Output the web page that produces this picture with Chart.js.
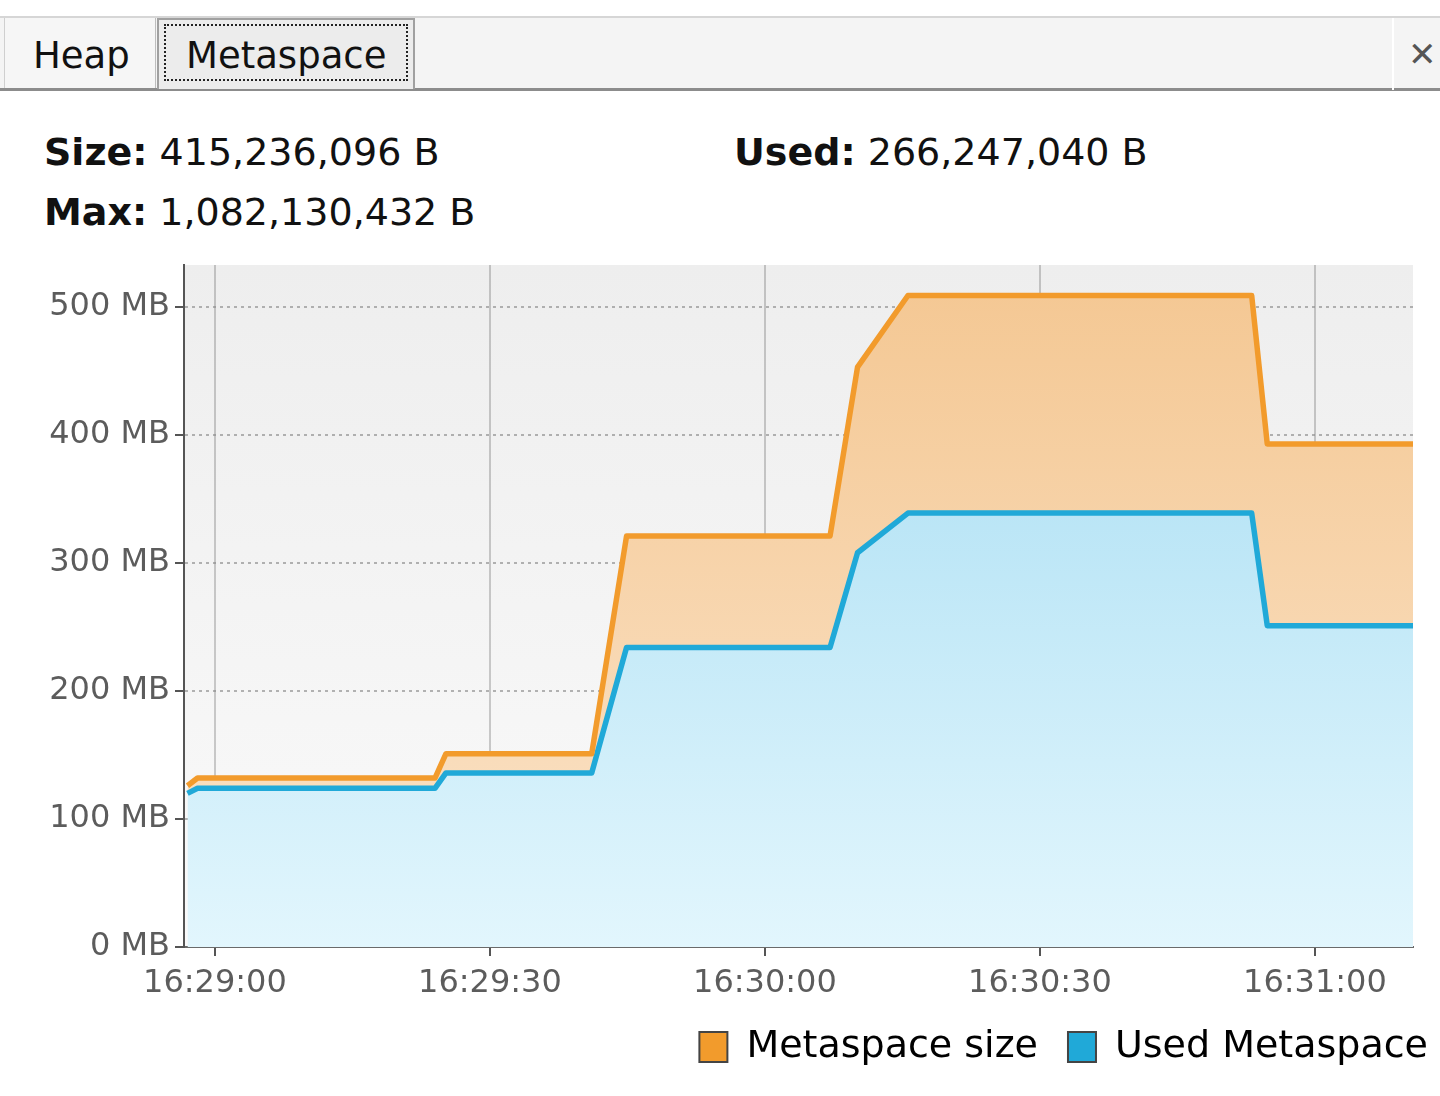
<!DOCTYPE html>
<html>
<head>
<meta charset="utf-8">
<script src="https://cdn.jsdelivr.net/npm/chart.js@4.4.1/dist/chart.umd.min.js"></script>
<style>
  html, body { margin: 0; padding: 0; background: #ffffff; width: 1440px; height: 1096px; overflow: hidden; }
  body { position: relative; font-family: "DejaVu Sans", sans-serif; color: #111; }
  .strip { position: absolute; left: 0; top: 16px; width: 1440px; height: 70px; background: #f4f4f4;
           border-top: 2px solid #d6d6d6; border-bottom: 3px solid #8c8c8c; }
  .tab { position: absolute; top: 18px; height: 70px; box-sizing: border-box; font-size: 37px; color: #111; }
  .tab.heap { left: 4px; width: 152px; background: #f6f6f6; border-left: 1px solid #cfcfcf; border-right: 1px solid #bdbdbd; }
  .tab.heap span { position: absolute; left: 28px; top: 16px; }
  .tab.meta { left: 157px; width: 258px; height: 71px; background: #ececec; border: 2px solid #a0a0a0; border-bottom: none; }
  .tab.meta .focus { position: absolute; left: 5px; top: 4px; width: 244px; height: 57px; box-sizing: border-box; border: 2px dotted #222; }
  .tab.meta span { position: absolute; left: 27px; top: 14px; }
  .close { position: absolute; left: 1408px; top: 34px; font-size: 34px; color: #555; font-weight: bold; }
  .divider { position: absolute; left: 1392px; top: 18px; width: 2px; height: 72px; background: #ffffff; }
  .info { position: absolute; font-size: 38px; color: #111; white-space: nowrap; }
  .info b { font-weight: bold; }
  #wrap { position: absolute; left: 0; top: 250px; width: 1460px; height: 846px; }
</style>
</head>
<body>
<div class="strip"></div>
<div class="divider"></div>
<div class="tab heap"><span>Heap</span></div>
<div class="tab meta"><div class="focus"></div><span>Metaspace</span></div>
<div class="close">✕</div>

<div class="info" style="left:44px; top:130px;"><b>Size:</b> 415,236,096 B</div>
<div class="info" style="left:44px; top:190px;"><b>Max:</b> 1,082,130,432 B</div>
<div class="info" style="left:734px; top:130px;"><b>Used:</b> 266,247,040 B</div>

<div id="wrap"><canvas id="c" width="1458" height="846"></canvas></div>

<script>
// ---- data (seconds after 16:29:00, values in MB) ----
const sampleSeconds = [-3.0, -1.9, 24.0, 25.2, 41.1, 44.9, 67.1, 70.1, 75.6, 113.1, 114.8, 130.7];
const metaspaceSize = [126, 132, 132, 151, 151, 321, 321, 453, 509, 509, 393, 393];
const usedMetaspace = [120, 124, 124, 136, 136, 234, 234, 308, 339, 339, 251, 251];
const xTickSeconds = [0, 30, 60, 90, 120];
const xTickLabels = ["16:29:00", "16:29:30", "16:30:00", "16:30:30", "16:31:00"];
const yTickValues = [0, 100, 200, 300, 400, 500];
const yTickLabels = ["0 MB", "100 MB", "200 MB", "300 MB", "400 MB", "500 MB"];
const seriesNames = ["Metaspace size", "Used Metaspace"];

const FONT = '"DejaVu Sans", sans-serif';
const ORANGE = '#f29b2c';
const BLUE = '#20a9d8';

function pts(vals) { return sampleSeconds.map((s, i) => ({ x: s, y: vals[i] })); }

function grad(ctx, chart, c1, c2) {
  const a = chart.chartArea;
  if (!a) return c1;
  const g = ctx.createLinearGradient(0, a.top, 0, a.bottom);
  g.addColorStop(0, c1);
  g.addColorStop(1, c2);
  return g;
}

const plotBg = {
  id: 'plotBg',
  beforeDraw(chart) {
    const { ctx, chartArea: a } = chart;
    const g = ctx.createLinearGradient(0, a.top, 0, a.bottom);
    g.addColorStop(0, '#eeeeee');
    g.addColorStop(1, '#fafafa');
    ctx.save();
    ctx.fillStyle = g;
    ctx.fillRect(a.left, a.top, a.right - a.left, a.bottom - a.top);
    ctx.restore();
  }
};

new Chart(document.getElementById('c'), {
  type: 'line',
  data: {
    datasets: [
      {
        label: seriesNames[0],
        data: pts(metaspaceSize),
        borderColor: ORANGE,
        borderWidth: 5.5,
        borderJoinStyle: 'round',
        pointRadius: 0,
        tension: 0,
        fill: '+1',
        backgroundColor: (c) => grad(c.chart.ctx, c.chart, '#f4c792', '#fbe4ca'),
        legendFill: ORANGE
      },
      {
        label: seriesNames[1],
        data: pts(usedMetaspace),
        borderColor: BLUE,
        borderWidth: 5.5,
        borderJoinStyle: 'round',
        pointRadius: 0,
        tension: 0,
        fill: 'origin',
        backgroundColor: (c) => grad(c.chart.ctx, c.chart, '#a4dcf2', '#e2f6fd'),
        legendFill: BLUE
      }
    ]
  },
  options: {
    responsive: false,
    animation: false,
    events: [],
    layout: { padding: { top: 15, right: 0, bottom: 20, left: 0 } },
    scales: {
      x: {
        type: 'linear',
        min: -3.38,
        max: 130.7,
        z: 1,
        afterBuildTicks(scale) { scale.ticks = xTickSeconds.map(v => ({ value: v })); },
        afterFit(scale) { scale.height = 51; scale.paddingLeft = 0; scale.paddingRight = 0; },
        ticks: {
          autoSkip: false,
          maxRotation: 0,
          padding: 8,
          color: '#5c5c5c',
          font: { family: FONT, size: 32 },
          callback: (v) => xTickLabels[xTickSeconds.indexOf(v)]
        },
        grid: {
          color: 'rgba(0,0,0,0.19)',
          lineWidth: 2,
          tickLength: 9,
          tickColor: '#555',
          tickWidth: 2
        },
        border: { display: true, color: '#6a6a6a', width: 2 }
      },
      y: {
        type: 'linear',
        position: 'left',
        min: 0,
        max: 532.8,
        z: 1,
        afterBuildTicks(scale) { scale.ticks = yTickValues.map(v => ({ value: v })); },
        afterFit(scale) { scale.width = 184; scale.paddingTop = 0; scale.paddingBottom = 0; },
        ticks: {
          padding: 5,
          color: '#5c5c5c',
          font: { family: FONT, size: 32 },
          callback: (v) => yTickLabels[yTickValues.indexOf(v)]
        },
        grid: {
          color: 'rgba(140,140,140,0.65)',
          lineWidth: 2,
          tickBorderDash: [],
          tickLength: 9,
          tickColor: '#555',
          tickWidth: 2,
          drawOnChartArea: true
        },
        border: { display: true, color: '#555', width: 2, dash: [3, 4] }
      },
      pad: {
        type: 'linear',
        axis: 'y',
        position: 'right',
        display: true,
        afterFit(scale) { scale.width = 45; scale.paddingTop = 0; scale.paddingBottom = 0; },
        ticks: { display: false },
        grid: { display: false, drawTicks: false },
        border: { display: false }
      }
    },
    plugins: {
      filler: { drawTime: 'beforeDatasetsDraw' },
      legend: {
        display: true,
        position: 'bottom',
        align: 'end',
        labels: {
          boxWidth: 28,
          boxHeight: 30,
          padding: 30,
          color: '#000',
          font: { family: FONT, size: 38 },
          generateLabels(chart) {
            return chart.data.datasets.map((ds, i) => ({
              text: ds.label,
              fillStyle: ds.legendFill,
              strokeStyle: '#444',
              lineWidth: 2,
              hidden: false,
              datasetIndex: i,
              fontColor: '#000'
            }));
          }
        }
      },
      tooltip: { enabled: false },
      title: { display: false }
    }
  },
  plugins: [plotBg]
});
</script>
</body>
</html>
